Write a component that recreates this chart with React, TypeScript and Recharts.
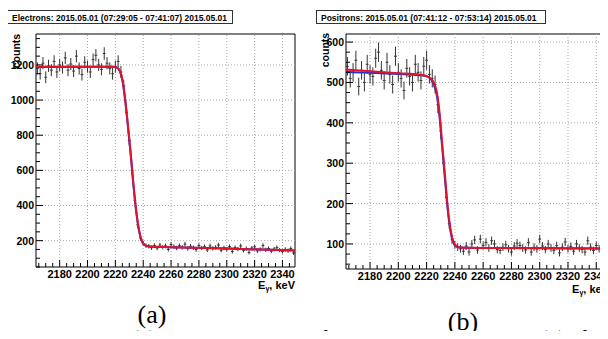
import React from "react";
import { ComposedChart, XAxis, YAxis, Scatter, Line, ErrorBar, ReferenceLine, ReferenceArea } from "recharts";

// histogram binning (keV), same for both runs
const BIN_START = 2164;
const BIN_WIDTH = 2;
const X_DOMAIN: [number, number] = [2163, 2349];
const X_MAJOR = [2180, 2200, 2220, 2240, 2260, 2280, 2300, 2320, 2340];

// electrons, counts per bin
const electronCounts = [
  1180, 1150, 1210, 1130, 1195, 1170, 1220, 1160, 1200, 1185,
  1240, 1170, 1205, 1165, 1250, 1180, 1145, 1215, 1190, 1160,
  1230, 1255, 1200, 1175, 1265, 1210, 1180, 1150, 1190, 1220,
  1160, 1080, 930, 770, 600, 430, 290, 215, 185, 172,
  168, 160, 172, 158, 175, 163, 170, 150, 178, 166,
  158, 171, 162, 180, 155, 168, 160, 149, 172, 158,
  165, 147, 170, 156, 162, 175, 145, 158, 150, 166,
  138, 160, 152, 170, 145, 155, 133, 158, 165, 142,
  150, 172, 148, 155, 140, 152, 160, 146, 138, 150,
  143, 155, 130,
];

// positrons, counts per bin
const positronCounts = [
  540, 510, 525, 555, 490, 530, 500, 545, 520, 515,
  560, 575, 530, 505, 550, 520, 495, 565, 525, 510,
  480, 535, 515, 500, 545, 525, 505, 540, 555, 520,
  510, 495, 445, 380, 300, 215, 150, 112, 98, 92,
  88, 82, 95, 80, 100, 110, 85, 112, 96, 104,
  90, 108, 100, 86, 84, 92, 98, 88, 80, 95,
  102, 96, 90, 85, 104, 80, 92, 88, 112, 95,
  86, 100, 90, 84, 96, 78, 92, 105, 88, 94,
  82, 100, 90, 86, 80, 108, 92, 84, 96, 88,
  90, 110, 85,
];

// fit curves
const eFitX = [2163, 2200, 2218, 2221, 2223, 2225, 2227, 2229, 2231, 2233, 2235, 2237, 2239, 2241, 2244, 2260, 2300, 2349];
const eFitRed = [1190, 1190, 1189, 1185, 1170, 1120, 1010, 860, 700, 520, 370, 260, 200, 175, 167, 163, 155, 144];
const eFitBlue = [1188, 1189, 1189, 1185, 1168, 1115, 1000, 850, 690, 512, 362, 255, 197, 174, 167, 163, 155, 144];

const pFitX = [2163, 2180, 2200, 2215, 2220, 2223, 2225, 2227, 2229, 2231, 2233, 2235, 2237, 2239, 2241, 2244, 2260, 2349];
const pFitRed = [532, 528, 523, 519, 516, 510, 500, 480, 430, 350, 270, 190, 135, 105, 95, 91, 90, 89];
const pFitBlue = [526, 524, 521, 518, 515, 508, 495, 472, 420, 340, 260, 182, 130, 102, 94, 91, 90, 89];

const FONT = "'Liberation Sans', Arial, sans-serif";
const RED = "#e3122c";
const BLUE = "#2233cc";

const toPoints = (counts: number[]) =>
  counts.map((c, i) => ({ x: BIN_START + i * BIN_WIDTH, y: c, ey: Math.sqrt(c), ex: BIN_WIDTH / 2 }));
const toCurve = (xs: number[], ys: number[]) => xs.map((x, i) => ({ x, y: ys[i] }));

const xTicks: number[] = [];
for (let v = 2165; v <= 2345; v += 5) xTicks.push(v);

interface PanelProps {
  counts: number[];
  red: { x: number; y: number }[];
  blue: { x: number; y: number }[];
  yDomain: [number, number];
  yMajor: number[];
  yMinorStep: number;
  width: number;
  height: number;
  yAxisWidth: number;
  xAxisHeight: number;
  marginRight: number;
}

function Panel({ counts, red, blue, yDomain, yMajor, yMinorStep, width, height, yAxisWidth, xAxisHeight, marginRight }: PanelProps) {
  const yTicks: number[] = [];
  for (let v = Math.ceil(yDomain[0] / yMinorStep) * yMinorStep; v <= yDomain[1]; v += yMinorStep) yTicks.push(v);

  const xTick = (p: any) => {
    const v = p.payload.value;
    const major = X_MAJOR.includes(v);
    return (
      <g>
        <line x1={p.x} x2={p.x} y1={p.y} y2={p.y - (major ? 7 : 4)} stroke="#000" />
        {major && (
          <text x={p.x} y={p.y + 11} textAnchor="middle" fontSize={11} fontWeight="bold" fontFamily={FONT} fill="#000">
            {v}
          </text>
        )}
      </g>
    );
  };

  const yTick = (p: any) => {
    const v = p.payload.value;
    const major = yMajor.includes(v);
    return (
      <g>
        <line x1={p.x} x2={p.x + (major ? 7 : 4)} y1={p.y} y2={p.y} stroke="#000" />
        {major && (
          <text x={p.x - 2} y={p.y + 4} textAnchor="end" fontSize={10.5} fontWeight="bold" fontFamily={FONT} fill="#000">
            {v}
          </text>
        )}
      </g>
    );
  };

  return (
    <ComposedChart width={width} height={height} margin={{ top: 34, right: marginRight, bottom: 0, left: 0 }}>
      <XAxis
        type="number"
        dataKey="x"
        domain={X_DOMAIN}
        allowDataOverflow
        ticks={xTicks}
        interval={0}
        tick={xTick}
        tickLine={false}
        axisLine={false}
        tickSize={0}
        tickMargin={0}
        height={xAxisHeight}
      />
      <YAxis
        type="number"
        dataKey="y"
        domain={yDomain}
        allowDataOverflow
        ticks={yTicks}
        interval={0}
        tick={yTick}
        tickLine={false}
        axisLine={false}
        tickSize={0}
        tickMargin={0}
        width={yAxisWidth}
      />
      {X_MAJOR.map(v => (
        <ReferenceLine key={"gx" + v} x={v} stroke="#aaa" strokeDasharray="1 2" />
      ))}
      {yMajor.map(v => (
        <ReferenceLine key={"gy" + v} y={v} stroke="#aaa" strokeDasharray="1 2" />
      ))}
      <Scatter data={toPoints(counts)} dataKey="y" fill="#222" shape={() => <g />} isAnimationActive={false}>
        <ErrorBar dataKey="ey" direction="y" width={0} stroke="#333" strokeWidth={1} />
        <ErrorBar dataKey="ex" direction="x" width={0} stroke="#333" strokeWidth={1} />
      </Scatter>
      <Line data={blue} dataKey="y" type="monotone" stroke={BLUE} strokeWidth={2} dot={false} isAnimationActive={false} />
      <Line data={red} dataKey="y" type="monotone" stroke={RED} strokeWidth={2} dot={false} isAnimationActive={false} />
      <ReferenceArea x1={X_DOMAIN[0]} x2={X_DOMAIN[1]} y1={yDomain[0]} y2={yDomain[1]} fill="none" stroke="#000" strokeWidth={1} />
    </ComposedChart>
  );
}

const boxStyle: React.CSSProperties = {
  position: "absolute",
  top: 10,
  height: 14,
  border: "1px solid #333",
  background: "#fff",
  fontFamily: FONT,
  fontWeight: "bold",
  fontSize: 8.5,
  lineHeight: "14px",
  paddingLeft: 4,
  boxSizing: "border-box",
  whiteSpace: "nowrap",
  color: "#000",
};

const countsStyle = (cx: number, cy: number): React.CSSProperties => ({
  position: "absolute",
  left: cx - 20,
  top: cy - 6,
  width: 40,
  height: 12,
  lineHeight: "12px",
  textAlign: "center",
  transform: "rotate(-90deg)",
  fontFamily: FONT,
  fontWeight: "bold",
  fontSize: 10.5,
  color: "#000",
});

const eLabel = (right: number, top: number): React.CSSProperties => ({
  position: "absolute",
  right,
  top,
  fontFamily: FONT,
  fontWeight: "bold",
  fontSize: 11,
  lineHeight: "11px",
  whiteSpace: "nowrap",
  color: "#000",
});

const serif = "'Liberation Serif', 'DejaVu Serif', serif";

const captionStyle = (left: number, top: number): React.CSSProperties => ({
  position: "absolute",
  left,
  top,
  width: 40,
  textAlign: "center",
  fontFamily: serif,
  fontSize: 26,
  lineHeight: "26px",
  color: "#000",
});

const bottomLine = (left: number): React.CSSProperties => ({
  position: "absolute",
  left,
  top: 327,
  whiteSpace: "nowrap",
  fontFamily: serif,
  fontSize: 22,
  lineHeight: "22px",
  wordSpacing: 8,
  color: "#000",
});

export default function App() {
  return (
    <div style={{ position: "relative", width: 608, height: 339, margin: -8, overflow: "hidden", background: "#fff" }}>
      <div style={{ position: "absolute", left: 0, top: 0 }}>
        <Panel
          counts={electronCounts}
          red={toCurve(eFitX, eFitRed)}
          blue={toCurve(eFitX, eFitBlue)}
          yDomain={[50, 1376]}
          yMajor={[200, 400, 600, 800, 1000, 1200]}
          yMinorStep={50}
          width={304}
          height={300}
          yAxisWidth={36}
          xAxisHeight={33}
          marginRight={9}
        />
      </div>
      <div style={{ position: "absolute", left: 304, top: 0 }}>
        <Panel
          counts={positronCounts}
          red={toCurve(pFitX, pFitRed)}
          blue={toCurve(pFitX, pFitBlue)}
          yDomain={[38, 620]}
          yMajor={[100, 200, 300, 400, 500, 600]}
          yMinorStep={25}
          width={320}
          height={300}
          yAxisWidth={42}
          xAxisHeight={31}
          marginRight={15}
        />
      </div>

      <div style={{ ...boxStyle, left: 7, width: 226 }}>Electrons: 2015.05.01 (07:29:05 - 07:41:07) 2015.05.01</div>
      <div style={{ ...boxStyle, left: 316, width: 230 }}>Positrons: 2015.05.01 (07:41:12 - 07:53:14) 2015.05.01</div>

      <div style={countsStyle(16, 51)}>counts</div>
      <div style={countsStyle(325, 50)}>counts</div>

      <div style={eLabel(608 - 295, 280)}>
        E<sub style={{ fontSize: 7, verticalAlign: "-2px" }}>γ</sub>, keV
      </div>
      <div style={eLabel(-1, 284)}>
        E<sub style={{ fontSize: 7, verticalAlign: "-2px" }}>γ</sub>, keV
      </div>

      <div style={captionStyle(132, 302)}>(a)</div>
      <div style={captionStyle(443, 309)}>(b)</div>

      <div style={bottomLine(30)}>Figure 3: (a) Compton edge for electrons;</div>
      <div style={bottomLine(540)}>(b) for positrons.</div>
    </div>
  );
}
